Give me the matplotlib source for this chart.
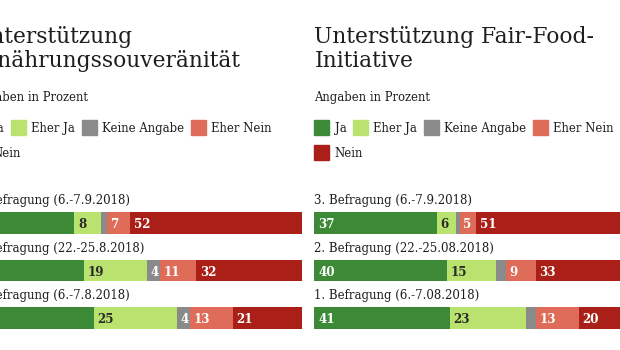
import matplotlib
matplotlib.use("Agg")
import matplotlib.pyplot as plt
from matplotlib.patches import Rectangle
from matplotlib.transforms import offset_copy

# answer categories and colours
categories = ["Ja", "Eher Ja", "Keine Angabe", "Eher Nein", "Nein"]
colors = ["#3c8a36", "#b9e26f", "#8a8a8a", "#de6c58", "#aa2018"]

# left chart: Ernährungssouveränität
left_rows = ["3. Befragung (6.-7.9.2018)", "2. Befragung (22.-25.8.2018)", "1. Befragung (6.-7.8.2018)"]
left_ja = [31, 34, 37]
left_eher_ja = [8, 19, 25]
left_keine = [2, 4, 4]
left_eher_nein = [7, 11, 13]
left_nein = [52, 32, 21]

# right chart: Fair-Food-Initiative
right_rows = ["3. Befragung (6.-7.9.2018)", "2. Befragung (22.-25.08.2018)", "1. Befragung (6.-7.08.2018)"]
right_ja = [37, 40, 41]
right_eher_ja = [6, 15, 23]
right_keine = [1, 3, 3]
right_eher_nein = [5, 9, 13]
right_nein = [51, 33, 20]

W, H = 620, 350
SERIF = "DejaVu Serif"
TXT = "#1e1e1e"

fig = plt.figure(figsize=(W / 100, H / 100), dpi=100)
fig.patch.set_facecolor("white")


def px(x, y):
    return x / W, 1 - y / H


def panel(x0, title, rows, series):
    fig.text(*px(x0, 43), title[0], fontsize=15.7, family=SERIF, color=TXT, va="baseline")
    fig.text(*px(x0, 67), title[1], fontsize=15.7, family=SERIF, color=TXT, va="baseline")
    fig.text(*px(x0, 101), "Angaben in Prozent", fontsize=8.4, family=SERIF, color=TXT, va="baseline")

    # legend, two rows of squares with labels
    r = fig.canvas.get_renderer()
    lx = x0
    for i, (cat, col) in enumerate(zip(categories, colors)):
        top = 120 if i < 4 else 145
        if i == 4:
            lx = x0
        fig.patches.append(Rectangle(px(lx, top + 15), 15 / W, 15 / H, color=col,
                                     transform=fig.transFigure, figure=fig))
        t = fig.text(*px(lx + 20, top + 12), cat, fontsize=8.4, family=SERIF, color=TXT, va="baseline")
        bb = t.get_window_extent(renderer=r)
        lx = bb.x1 + 7

    ax = fig.add_axes([x0 / W, (H - 329) / H, 330 / W, 117 / H])
    ax.set_xlim(0, 100)
    h = 0.463
    ax.set_ylim(2 + h / 2, -h / 2)
    ax.axis("off")
    ypos = range(len(rows))
    left = [0] * len(rows)
    for k, vals in enumerate(series):
        ax.barh(ypos, vals, left=left, height=h, color=colors[k], linewidth=0)
        for i, v in enumerate(vals):
            xs = ax.transData.transform((left[i], i))[0]
            if v >= 4 and xs >= 0:
                ax.text(left[i] + 1.1, i + 0.04, str(v), va="center", ha="left",
                        fontsize=8.6, family=SERIF, fontweight="bold",
                        color="#2a2a2a" if k == 1 else "white")
        left = [a + b for a, b in zip(left, vals)]
    lab_tr = offset_copy(ax.transData, fig=fig, y=8, units="dots")
    for i, lab in enumerate(rows):
        ax.text(0, i - h / 2, lab, transform=lab_tr, fontsize=8.5, family=SERIF,
                color=TXT, va="baseline", ha="left")


panel(-28, ["Unterstützung", "Ernährungssouveränität"], left_rows,
      [left_ja, left_eher_ja, left_keine, left_eher_nein, left_nein])
panel(314.5, ["Unterstützung Fair-Food-", "Initiative"], right_rows,
      [right_ja, right_eher_ja, right_keine, right_eher_nein, right_nein])

fig.savefig("out.png", dpi=100, facecolor="white")
